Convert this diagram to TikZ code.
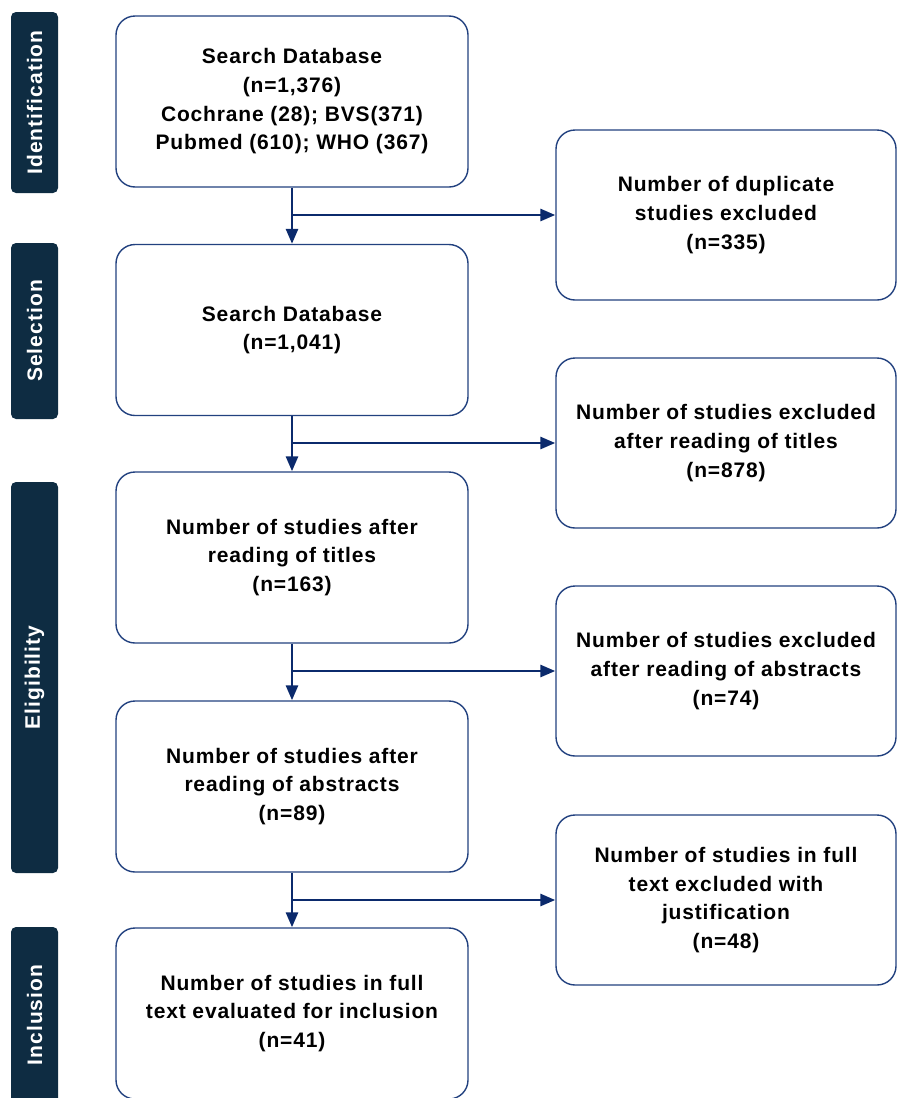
\documentclass[tikz,border=0pt]{standalone}
\usepackage{fontspec}
\setmainfont{Liberation Sans}
\usetikzlibrary{arrows.meta}

\definecolor{barnavy}{HTML}{0E2C42}
\definecolor{edgeblue}{HTML}{22417F}
\definecolor{flownavy}{HTML}{0B2A6C}

\tikzset{
  stagebox/.style={rectangle, rounded corners=19pt, draw=edgeblue, line width=1.4pt,
    fill=white, align=center, inner sep=0pt,
    font=\bfseries\fontsize{21}{28.7}\selectfont\addfontfeatures{LetterSpace=4}},
  leftbox/.style={stagebox, minimum width=352pt, minimum height=171pt},
  rightbox/.style={stagebox, minimum width=340pt, minimum height=170pt},
  stagebar/.style={rectangle, rounded corners=5pt, fill=barnavy, text=white,
    rotate=90, minimum height=47pt, inner sep=0pt,
    font=\bfseries\fontsize{21}{24}\selectfont\addfontfeatures{LetterSpace=5}},
  flow/.style={draw=flownavy, line width=2.8pt,
    -{Triangle[length=15pt,width=12pt]}}
}

\begin{document}
\begin{tikzpicture}[x=1pt,y=-1pt]
  % Fix page size
  \useasboundingbox (0,0) rectangle (898,1098);

  % Stage bars on the left
  \node[stagebar, minimum width=181pt] (barid) at (34.5,102.5) {Identification};
  \node[stagebar, minimum width=176pt] (barsel) at (34.5,331) {Selection};
  \node[stagebar, minimum width=391pt] (barelig) at (34.5,677.5) {Eligibility};
  \node[stagebar, minimum width=176pt] (barinc) at (34.5,1015) {Inclusion};

  % Main column
  \node[leftbox] (search) at (292,101.5) {Search Database\\(n=1,376)\\Cochrane (28); BVS(371)\\Pubmed (610); WHO (367)};
  \node[leftbox] (dedup) at (292,330) {Search Database\\(n=1,041)};
  \node[leftbox] (titles) at (292,557.5) {Number of studies after\\reading of titles\\(n=163)};
  \node[leftbox] (abstracts) at (292,786.5) {Number of studies after\\reading of abstracts\\(n=89)};
  \node[leftbox] (included) at (292,1013.5) {Number of studies in full\\text evaluated for inclusion\\(n=41)};

  % Exclusion column
  \node[rightbox] (exdup) at (726,215) {Number of duplicate\\studies excluded\\(n=335)};
  \node[rightbox] (extitles) at (726,443) {Number of studies excluded\\after reading of titles\\(n=878)};
  \node[rightbox] (exabs) at (726,671) {Number of studies excluded\\after reading of abstracts\\(n=74)};
  \node[rightbox] (exfull) at (726,900) {Number of studies in full\\text excluded with\\justification\\(n=48)};

  % Arrows down and across
  \draw[flow] (search.south) -- (dedup.north);
  \draw[flow] (search.south |- exdup.west) -- (exdup.west);
  \draw[flow] (dedup.south) -- (titles.north);
  \draw[flow] (dedup.south |- extitles.west) -- (extitles.west);
  \draw[flow] (titles.south) -- (abstracts.north);
  \draw[flow] (titles.south |- exabs.west) -- (exabs.west);
  \draw[flow] (abstracts.south) -- (included.north);
  \draw[flow] (abstracts.south |- exfull.west) -- (exfull.west);
\end{tikzpicture}
\end{document}
